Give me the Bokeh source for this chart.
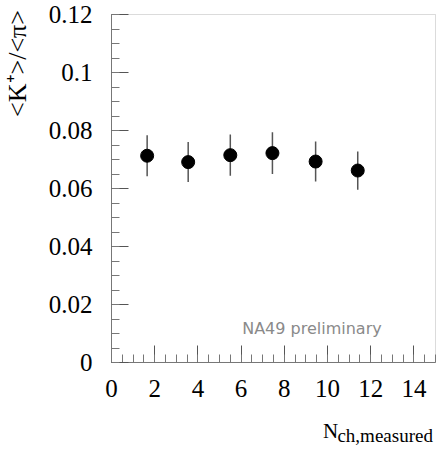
from math import pi
from bokeh.plotting import figure
from bokeh.models import (Range1d, SingleIntervalTicker, CustomJSTickFormatter,
                          Label, ColumnDataSource, BoxAnnotation)
from bokeh.embed import file_html
from bokeh.resources import INLINE

# ---- data ----
n_ch = [1.65, 3.55, 5.5, 7.45, 9.45, 11.4]
k_over_pi = [0.0713, 0.0691, 0.0715, 0.0722, 0.0693, 0.0662]
k_over_pi_err = [0.0071, 0.0069, 0.0071, 0.0072, 0.0069, 0.0066]

x_title_main = "N"
x_title_sub = "ch,measured"
y_title = "<K\u207a>/<\u03c0>"
watermark = "NA49 preliminary"

X_MIN, X_MAX = 0, 15
Y_MIN, Y_MAX = 0, 0.12

src = ColumnDataSource(dict(
    x=n_ch,
    y=k_over_pi,
    lo=[v - e for v, e in zip(k_over_pi, k_over_pi_err)],
    hi=[v + e for v, e in zip(k_over_pi, k_over_pi_err)],
))

# The frame fills the whole canvas; axes sit at fixed data locations so that
# the axis titles (drawn as labels) are inside the drawable area.
p = figure(width=436, height=453, output_backend="svg", toolbar_location=None,
           x_range=Range1d(-5.139, 15.046), y_range=Range1d(-0.03138, 0.12483),
           min_border_left=0, min_border_right=0, min_border_top=0,
           min_border_bottom=0)
p.grid.visible = False
p.outline_line_color = None
p.background_fill_color = "white"
p.border_fill_color = "white"

for ax in (p.xaxis[0], p.yaxis[0]):
    ax.fixed_location = 0
    ax.axis_line_color = "#777777"
    ax.major_tick_in = 17
    ax.major_tick_out = 0
    ax.minor_tick_in = 8
    ax.minor_tick_out = 0
    ax.major_tick_line_color = "#555555"
    ax.minor_tick_line_color = "#777777"
    ax.major_label_text_font = "Liberation Serif"
    ax.major_label_text_font_size = "25px"
    ax.major_label_text_color = "black"

p.xaxis[0].bounds = (X_MIN, X_MAX)
p.xaxis[0].ticker = SingleIntervalTicker(interval=2, num_minor_ticks=4)
p.xaxis[0].major_label_standoff = 18
p.yaxis[0].bounds = (Y_MIN, Y_MAX)
p.yaxis[0].ticker = SingleIntervalTicker(interval=0.02, num_minor_ticks=4)
p.yaxis[0].formatter = CustomJSTickFormatter(
    code="return String(parseFloat(tick.toFixed(3)));")
p.yaxis[0].major_label_standoff = 19

# plot box (top and right edges)
p.add_layout(BoxAnnotation(left=X_MIN, right=X_MAX, bottom=Y_MIN, top=Y_MAX,
                           fill_alpha=0, line_color="#888888", line_width=1,
                           level="underlay"))

p.segment(x0="x", y0="lo", x1="x", y1="hi", source=src,
          line_color="#555555", line_width=1.5)
p.scatter(x="x", y="y", source=src, size=13, marker="circle",
          fill_color="black", line_color="black")

p.add_layout(Label(x=6.05, y=0.0118, text=watermark,
                   text_font="DejaVu Sans", text_font_size="16px",
                   text_color="#8a8a8a", text_baseline="alphabetic"))

p.add_layout(Label(x=9.79, y=-0.0235, text=x_title_main,
                   text_font="Liberation Serif", text_font_size="21px",
                   text_color="black", text_baseline="alphabetic"))
p.add_layout(Label(x=10.46, y=-0.0253, text=x_title_sub,
                   text_font="Liberation Serif", text_font_size="19px",
                   text_color="black", text_baseline="alphabetic"))
p.add_layout(Label(x=-4.36, y=0.1031, text=y_title, angle=pi / 2,
                   text_font="Liberation Serif", text_font_size="26px",
                   text_color="black", text_align="center",
                   text_baseline="alphabetic"))

open("out.html", "w").write(file_html(p, INLINE))
